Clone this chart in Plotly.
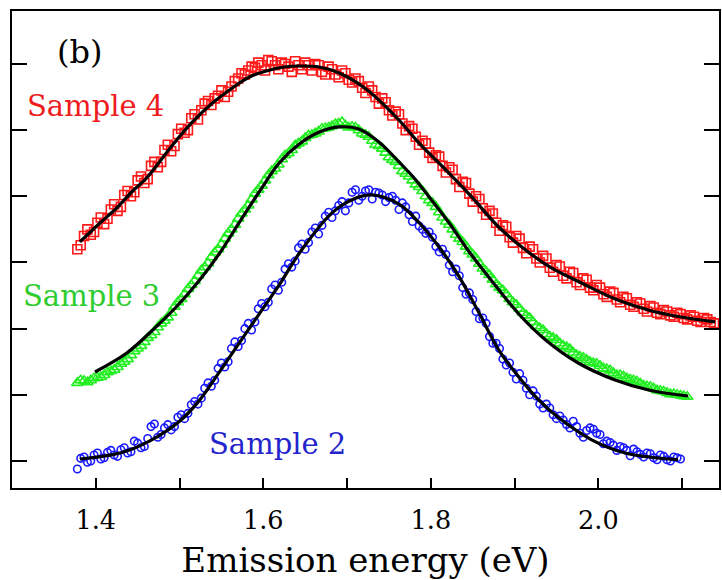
import plotly.graph_objects as go

# ---- Sample 2 (blue circles): two interleaved sweeps ----
s2_energy_a = [1.378, 1.386, 1.394, 1.402, 1.410, 1.418, 1.426, 1.434, 1.442, 1.450,
               1.458, 1.466, 1.474, 1.482, 1.490, 1.498, 1.506, 1.514, 1.522, 1.530,
               1.538, 1.546, 1.554, 1.562, 1.570, 1.578, 1.586, 1.594, 1.602, 1.610,
               1.618, 1.626, 1.634, 1.642, 1.650, 1.658, 1.666, 1.674, 1.682, 1.690,
               1.698, 1.706, 1.714, 1.722, 1.730, 1.738, 1.746, 1.754, 1.762, 1.770,
               1.778, 1.786, 1.794, 1.802, 1.810, 1.818, 1.826, 1.834, 1.842, 1.850,
               1.858, 1.866, 1.874, 1.882, 1.890, 1.898, 1.906, 1.914, 1.922, 1.930,
               1.938, 1.946, 1.954, 1.962, 1.970, 1.978, 1.986, 1.994, 2.002, 2.010,
               2.018, 2.026, 2.034, 2.042, 2.050, 2.058, 2.066, 2.074, 2.082, 2.090,
               2.098]
s2_intensity_a = [-0.12, 0.06, 0.00, 0.12, 0.05, 0.16, 0.07, 0.20, 0.14, 0.27,
                  0.22, 0.52, 0.36, 0.50, 0.47, 0.66, 0.64, 0.85, 0.86, 1.10,
                  1.13, 1.40, 1.42, 1.70, 1.73, 2.00, 1.98, 2.30, 2.33, 2.60,
                  2.58, 2.90, 2.93, 3.22, 3.20, 3.46, 3.43, 3.70, 3.68, 3.86,
                  3.78, 4.06, 3.94, 4.08, 3.96, 4.05, 3.92, 4.00, 3.80, 3.84,
                  3.62, 3.55, 3.44, 3.38, 3.16, 3.12, 2.86, 2.80, 2.52, 2.44,
                  2.15, 2.08, 1.78, 1.70, 1.45, 1.34, 1.32, 1.10, 1.06, 0.86,
                  0.86, 0.70, 0.68, 0.55, 0.60, 0.42, 0.46, 0.48, 0.40, 0.30,
                  0.24, 0.22, 0.16, 0.18, 0.10, 0.12, 0.05, 0.09, 0.02, 0.06,
                  0.03]
s2_energy_b = [1.382, 1.390, 1.398, 1.406, 1.414, 1.422, 1.430, 1.438, 1.446, 1.454,
               1.462, 1.470, 1.478, 1.486, 1.494, 1.502, 1.510, 1.518, 1.526, 1.534,
               1.542, 1.550, 1.558, 1.566, 1.574, 1.582, 1.590, 1.598, 1.606, 1.614,
               1.622, 1.630, 1.638, 1.646, 1.654, 1.662, 1.670, 1.678, 1.686, 1.694,
               1.702, 1.710, 1.718, 1.726, 1.734, 1.742, 1.750, 1.758, 1.766, 1.774,
               1.782, 1.790, 1.798, 1.806, 1.814, 1.822, 1.830, 1.838, 1.846, 1.854,
               1.862, 1.870, 1.878, 1.886, 1.894, 1.902, 1.910, 1.918, 1.926, 1.934,
               1.942, 1.950, 1.958, 1.966, 1.974, 1.982, 1.990, 1.998, 2.006, 2.014,
               2.022, 2.030, 2.038, 2.046, 2.054, 2.062, 2.070, 2.078, 2.086, 2.094]
s2_intensity_b = [0.04, -0.02, 0.09, 0.03, 0.13, 0.09, 0.17, 0.12, 0.30, 0.20,
                  0.34, 0.56, 0.40, 0.55, 0.52, 0.70, 0.72, 0.90, 0.95, 1.18,
                  1.22, 1.48, 1.50, 1.80, 1.82, 2.08, 2.10, 2.38, 2.40, 2.66,
                  2.70, 2.98, 3.02, 3.28, 3.30, 3.52, 3.56, 3.76, 3.78, 3.92,
                  3.90, 4.10, 4.00, 4.10, 4.06, 4.02, 3.98, 3.94, 3.90, 3.72,
                  3.70, 3.50, 3.46, 3.24, 3.20, 2.96, 2.90, 2.62, 2.54, 2.26,
                  2.16, 1.88, 1.78, 1.54, 1.48, 1.24, 1.22, 1.00, 0.98, 0.80,
                  0.80, 0.64, 0.62, 0.50, 0.52, 0.36, 0.50, 0.42, 0.26, 0.28,
                  0.16, 0.20, 0.08, 0.14, 0.06, 0.11, 0.02, 0.07, 0.00, 0.05]
s2_fit_energy = [1.381, 1.429, 1.464, 1.500, 1.524, 1.544, 1.563, 1.595, 1.619, 1.643,
                 1.682, 1.708, 1.730, 1.762, 1.786, 1.810, 1.833, 1.857, 1.881, 1.905,
                 1.929, 1.952, 1.992, 2.032, 2.095]
s2_fit = [0.03, 0.12, 0.30, 0.60, 0.92, 1.28, 1.63, 2.22, 2.66, 3.14,
          3.75, 3.96, 4.02, 3.88, 3.60, 3.23, 2.80, 2.25, 1.68, 1.27,
          0.92, 0.66, 0.32, 0.12, 0.02]

# ---- Sample 3 (green triangles): two interleaved sweeps ----
s3_energy_a = [1.378, 1.386, 1.394, 1.402, 1.410, 1.418, 1.426, 1.434, 1.442, 1.450,
               1.458, 1.466, 1.474, 1.482, 1.490, 1.498, 1.506, 1.514, 1.522, 1.530,
               1.538, 1.546, 1.554, 1.562, 1.570, 1.578, 1.586, 1.594, 1.602, 1.610,
               1.618, 1.626, 1.634, 1.642, 1.650, 1.658, 1.666, 1.674, 1.682, 1.690,
               1.698, 1.706, 1.714, 1.722, 1.730, 1.738, 1.746, 1.754, 1.762, 1.770,
               1.778, 1.786, 1.794, 1.802, 1.810, 1.818, 1.826, 1.834, 1.842, 1.850,
               1.858, 1.866, 1.874, 1.882, 1.890, 1.898, 1.906, 1.914, 1.922, 1.930,
               1.938, 1.946, 1.954, 1.962, 1.970, 1.978, 1.986, 1.994, 2.002, 2.010,
               2.018, 2.026, 2.034, 2.042, 2.050, 2.058, 2.066, 2.074, 2.082, 2.090,
               2.098, 2.106]
s3_intensity_a = [1.18, 1.21, 1.22, 1.26, 1.30, 1.36, 1.42, 1.50, 1.60, 1.70,
                  1.80, 1.90, 2.02, 2.12, 2.24, 2.40, 2.52, 2.66, 2.80, 2.93,
                  3.08, 3.20, 3.36, 3.50, 3.66, 3.80, 3.95, 4.10, 4.24, 4.38,
                  4.48, 4.62, 4.70, 4.80, 4.88, 4.93, 4.98, 5.03, 5.06, 5.10,
                  5.07, 5.05, 5.00, 4.93, 4.84, 4.76, 4.66, 4.55, 4.46, 4.34,
                  4.24, 4.14, 4.00, 3.90, 3.76, 3.62, 3.50, 3.36, 3.24, 3.12,
                  2.98, 2.86, 2.74, 2.62, 2.52, 2.40, 2.30, 2.20, 2.10, 2.01,
                  1.92, 1.86, 1.78, 1.72, 1.64, 1.58, 1.53, 1.48, 1.44, 1.39,
                  1.33, 1.30, 1.25, 1.22, 1.17, 1.13, 1.10, 1.06, 1.03, 1.01,
                  0.99, 0.97]
s3_energy_b = [1.382, 1.390, 1.398, 1.406, 1.414, 1.422, 1.430, 1.438, 1.446, 1.454,
               1.462, 1.470, 1.478, 1.486, 1.494, 1.502, 1.510, 1.518, 1.526, 1.534,
               1.542, 1.550, 1.558, 1.566, 1.574, 1.582, 1.590, 1.598, 1.606, 1.614,
               1.622, 1.630, 1.638, 1.646, 1.654, 1.662, 1.670, 1.678, 1.686, 1.694,
               1.702, 1.710, 1.718, 1.726, 1.734, 1.742, 1.750, 1.758, 1.766, 1.774,
               1.782, 1.790, 1.798, 1.806, 1.814, 1.822, 1.830, 1.838, 1.846, 1.854,
               1.862, 1.870, 1.878, 1.886, 1.894, 1.902, 1.910, 1.918, 1.926, 1.934,
               1.942, 1.950, 1.958, 1.966, 1.974, 1.982, 1.990, 1.998, 2.006, 2.014,
               2.022, 2.030, 2.038, 2.046, 2.054, 2.062, 2.070, 2.078, 2.086, 2.094,
               2.102]
s3_intensity_b = [1.22, 1.19, 1.25, 1.27, 1.34, 1.38, 1.47, 1.54, 1.66, 1.74,
                  1.86, 1.95, 2.08, 2.17, 2.33, 2.45, 2.60, 2.72, 2.88, 2.99,
                  3.15, 3.27, 3.44, 3.57, 3.74, 3.86, 4.04, 4.16, 4.32, 4.42,
                  4.56, 4.65, 4.77, 4.83, 4.92, 4.95, 5.02, 5.04, 5.09, 5.12,
                  5.04, 5.04, 4.95, 4.90, 4.78, 4.72, 4.59, 4.52, 4.38, 4.30,
                  4.18, 4.08, 3.94, 3.84, 3.68, 3.57, 3.42, 3.31, 3.17, 3.06,
                  2.91, 2.81, 2.67, 2.58, 2.45, 2.36, 2.24, 2.16, 2.04, 1.98,
                  1.88, 1.83, 1.74, 1.69, 1.60, 1.56, 1.50, 1.47, 1.40, 1.37,
                  1.30, 1.28, 1.23, 1.20, 1.14, 1.12, 1.07, 1.05, 1.01, 1.00,
                  0.98]
s3_fit_energy = [1.399, 1.437, 1.468, 1.496, 1.524, 1.548, 1.571, 1.595, 1.619, 1.643,
                 1.667, 1.6905, 1.714, 1.738, 1.762, 1.780, 1.798, 1.821, 1.845, 1.869,
                 1.905, 1.937, 1.976, 2.020, 2.060, 2.107]
s3_fit = [1.345, 1.632, 1.980, 2.327, 2.735, 3.143, 3.597, 4.065, 4.504, 4.791,
          4.972, 5.048, 5.017, 4.821, 4.519, 4.277, 3.990, 3.612, 3.174, 2.781,
          2.222, 1.829, 1.481, 1.224, 1.073, 0.982]

# ---- Sample 4 (red squares): two interleaved sweeps ----
s4_energy_a = [1.378, 1.386, 1.394, 1.402, 1.410, 1.418, 1.426, 1.434, 1.442, 1.450,
               1.458, 1.466, 1.474, 1.482, 1.490, 1.498, 1.506, 1.514, 1.522, 1.530,
               1.538, 1.546, 1.554, 1.562, 1.570, 1.578, 1.586, 1.594, 1.602, 1.610,
               1.618, 1.626, 1.634, 1.642, 1.650, 1.658, 1.666, 1.674, 1.682, 1.690,
               1.698, 1.706, 1.714, 1.722, 1.730, 1.738, 1.746, 1.754, 1.762, 1.770,
               1.778, 1.786, 1.794, 1.802, 1.810, 1.818, 1.826, 1.834, 1.842, 1.850,
               1.858, 1.866, 1.874, 1.882, 1.890, 1.898, 1.906, 1.914, 1.922, 1.930,
               1.938, 1.946, 1.954, 1.962, 1.970, 1.978, 1.986, 1.994, 2.002, 2.010,
               2.018, 2.026, 2.034, 2.042, 2.050, 2.058, 2.066, 2.074, 2.082, 2.090,
               2.098, 2.106, 2.114, 2.122, 2.130, 2.138]
s4_intensity_a = [3.20, 3.40, 3.42, 3.60, 3.58, 3.80, 3.78, 4.02, 4.00, 4.24,
                  4.20, 4.46, 4.44, 4.70, 4.68, 4.94, 4.96, 5.18, 5.16, 5.40,
                  5.38, 5.52, 5.50, 5.66, 5.78, 5.84, 5.96, 6.02, 5.90, 6.04,
                  5.92, 6.00, 5.88, 5.98, 6.02, 5.90, 5.98, 5.84, 5.92, 5.80,
                  5.86, 5.72, 5.74, 5.56, 5.60, 5.40, 5.42, 5.22, 5.24, 5.00,
                  5.02, 4.78, 4.80, 4.58, 4.60, 4.36, 4.40, 4.14, 4.20, 3.92,
                  3.96, 3.72, 3.74, 3.48, 3.54, 3.30, 3.36, 3.14, 3.20, 3.00,
                  3.06, 2.86, 2.94, 2.76, 2.84, 2.66, 2.74, 2.58, 2.62, 2.48,
                  2.54, 2.40, 2.46, 2.33, 2.38, 2.26, 2.32, 2.22, 2.26, 2.18,
                  2.22, 2.14, 2.18, 2.10, 2.14, 2.08]
s4_energy_b = [1.382, 1.390, 1.398, 1.406, 1.414, 1.422, 1.430, 1.438, 1.446, 1.454,
               1.462, 1.470, 1.478, 1.486, 1.494, 1.502, 1.510, 1.518, 1.526, 1.534,
               1.542, 1.550, 1.558, 1.566, 1.574, 1.582, 1.590, 1.598, 1.606, 1.614,
               1.622, 1.630, 1.638, 1.646, 1.654, 1.662, 1.670, 1.678, 1.686, 1.694,
               1.702, 1.710, 1.718, 1.726, 1.734, 1.742, 1.750, 1.758, 1.766, 1.774,
               1.782, 1.790, 1.798, 1.806, 1.814, 1.822, 1.830, 1.838, 1.846, 1.854,
               1.862, 1.870, 1.878, 1.886, 1.894, 1.902, 1.910, 1.918, 1.926, 1.934,
               1.942, 1.950, 1.958, 1.966, 1.974, 1.982, 1.990, 1.998, 2.006, 2.014,
               2.022, 2.030, 2.038, 2.046, 2.054, 2.062, 2.070, 2.078, 2.086, 2.094,
               2.102, 2.110, 2.118, 2.126, 2.134]
s4_intensity_b = [3.26, 3.50, 3.46, 3.68, 3.66, 3.88, 3.84, 4.08, 4.06, 4.30,
                  4.26, 4.52, 4.52, 4.78, 4.76, 5.02, 5.00, 5.24, 5.30, 5.44,
                  5.48, 5.60, 5.58, 5.74, 5.86, 5.90, 5.94, 5.98, 6.06, 5.98,
                  6.02, 5.96, 6.04, 5.92, 5.98, 6.00, 5.88, 5.96, 5.84, 5.90,
                  5.76, 5.78, 5.64, 5.66, 5.50, 5.48, 5.30, 5.28, 5.10, 5.06,
                  4.90, 4.84, 4.66, 4.62, 4.46, 4.44, 4.26, 4.22, 4.04, 4.00,
                  3.82, 3.78, 3.60, 3.56, 3.38, 3.40, 3.22, 3.24, 3.06, 3.10,
                  2.92, 2.96, 2.80, 2.86, 2.70, 2.76, 2.62, 2.66, 2.52, 2.56,
                  2.44, 2.48, 2.36, 2.40, 2.30, 2.34, 2.24, 2.28, 2.20, 2.24,
                  2.16, 2.20, 2.12, 2.16, 2.10]
s4_fit_energy = [1.381, 1.405, 1.425, 1.444, 1.4607, 1.4917, 1.5155, 1.5393, 1.5631, 1.5833,
                 1.6036, 1.625, 1.6429, 1.6667, 1.6905, 1.7226, 1.7619, 1.7857, 1.8179, 1.8488,
                 1.881, 1.9131, 1.944, 1.9798, 2.0202, 2.0595, 2.0988, 2.1393]
s4_fit = [3.310, 3.597, 3.823, 4.080, 4.277, 4.776, 5.123, 5.410, 5.637, 5.803,
          5.894, 5.954, 5.969, 5.954, 5.864, 5.622, 5.153, 4.806, 4.398, 3.990,
          3.536, 3.189, 2.917, 2.690, 2.448, 2.282, 2.176, 2.101]

x_tick_vals = [1.4, 1.5, 1.6, 1.7, 1.8, 1.9, 2.0, 2.1]
x_tick_text = ["1.4", "", "1.6", "", "1.8", "", "2.0", ""]
y_tick_vals = [0, 1, 2, 3, 4, 5, 6]

RED = "#ff1a1a"
GREEN = "#22ee22"
BLUE = "#1a1aff"
SERIF = "DejaVu Serif"

fig = go.Figure()

series = [
    (s4_energy_a + s4_energy_b, s4_intensity_a + s4_intensity_b, "square-open", RED, 9),
    (s3_energy_a + s3_energy_b, s3_intensity_a + s3_intensity_b, "triangle-up-open", GREEN, 10),
    (s2_energy_a + s2_energy_b, s2_intensity_a + s2_intensity_b, "circle-open", BLUE, 7.5),
]
for ex, ey, sym, col, size in series:
    fig.add_trace(go.Scatter(
        x=ex, y=ey, mode="markers",
        marker=dict(symbol=sym, size=size, color=col, line=dict(width=1.6, color=col)),
        showlegend=False,
    ))

for fx, fy in [(s4_fit_energy, s4_fit), (s3_fit_energy, s3_fit), (s2_fit_energy, s2_fit)]:
    fig.add_trace(go.Scatter(
        x=fx, y=fy, mode="lines",
        line=dict(color="black", width=3.2, shape="spline", smoothing=1.0),
        showlegend=False,
    ))

labels = [
    ("(b)", 1.381, 6.18, "black", 32),
    ("Sample 4", 1.400, 5.36, "#ee1c1c", 29),
    ("Sample 3", 1.395, 2.49, "#2ecc2e", 29),
    ("Sample 2", 1.617, 0.26, "#2424cc", 29),
]
for txt, lx, ly, col, fs in labels:
    fig.add_annotation(x=lx, y=ly, text=txt, showarrow=False,
                       font=dict(family=SERIF, size=fs, color=col),
                       xanchor="center", yanchor="middle")

fig.update_layout(
    width=722, height=580,
    margin=dict(l=12, r=1, t=11, b=92),
    paper_bgcolor="white", plot_bgcolor="white",
    font=dict(family=SERIF, color="black"),
)
fig.update_xaxes(
    range=[1.3, 2.144], showgrid=False, zeroline=False,
    showline=True, linecolor="black", linewidth=2, mirror=True,
    tickmode="array", tickvals=x_tick_vals, ticktext=x_tick_text,
    ticks="inside", ticklen=10, tickwidth=2, tickcolor="black",
    ticklabelstandoff=8,
    tickfont=dict(family=SERIF, size=25.5),
    title=dict(text="Emission energy (eV)", font=dict(family=SERIF, size=34), standoff=16),
)
fig.update_yaxes(
    range=[-0.408, 6.80], showgrid=False, zeroline=False,
    showline=True, linecolor="black", linewidth=2, mirror="ticks",
    tickmode="array", tickvals=y_tick_vals, showticklabels=False,
    ticks="inside", ticklen=15, tickwidth=2, tickcolor="black",
)

fig.write_html("out.html")
